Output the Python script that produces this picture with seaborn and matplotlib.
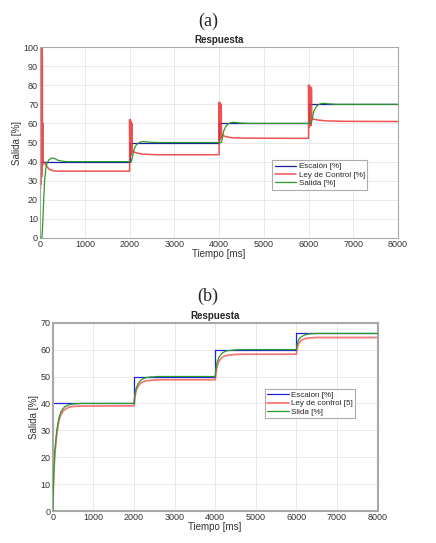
import numpy as np
import pandas as pd
import matplotlib as mpl
from matplotlib import pyplot as plt
import seaborn as sns

sns.set_theme(style="whitegrid")
plt.rcParams["font.family"] = ["Liberation Sans", "DejaVu Sans"]

# ---- (a) data ----
esc_t_a = [0, 2000, 2000, 4000, 4000, 6000, 6000, 8000]
esc_y_a = [40, 40, 50, 50, 60, 60, 70, 70]

ley_t_a = [0, 5, 10, 15, 20, 25, 30, 35, 40, 45, 50, 55, 60, 70, 100, 150, 200, 300, 400, 2000,
           2000, 2008, 2016, 2024, 2032, 2040, 2048, 2056, 2062, 2100, 2200, 2300, 2600, 4000,
           4000, 4008, 4016, 4024, 4032, 4040, 4048, 4056, 4064, 4100, 4200, 4300, 4600, 5500, 6000,
           6000, 6008, 6016, 6024, 6032, 6040, 6048, 6056, 6064, 6072, 6080, 6100, 6200, 6400, 6800, 8000]
ley_y_a = [105, 25, 105, 28, 105, 30, 105, 32, 100, 35, 95, 38, 60, 40, 39.5, 37.5, 36, 35.2, 35, 35,
           62, 42, 62, 43, 61, 44, 60, 45, 46, 45, 44.3, 43.9, 43.6, 43.6,
           71, 51, 71, 52, 70, 52, 70, 53, 54, 53.5, 52.8, 52.5, 52.3, 52.2, 52.2,
           80, 58, 80, 58.5, 79, 59, 79, 59, 78, 62, 62.5, 62.3, 61.8, 61.3, 61.1, 61]

sal_t_a = [0, 40, 60, 80, 100, 130, 160, 200, 250, 300, 350, 400, 500, 600, 2000,
           2040, 2060, 2080, 2100, 2150, 2200, 2250, 2300, 2400, 2500, 2600, 4000,
           4050, 4070, 4090, 4110, 4160, 4210, 4260, 4330, 4430, 4530, 4650, 6000,
           6060, 6080, 6100, 6120, 6170, 6220, 6270, 6340, 6440, 6540, 6660, 8000]
sal_y_a = [0, 0, 8, 20, 30, 37, 39.5, 41, 41.8, 41.8, 41.3, 40.7, 40.2, 40, 40,
           40, 42, 44.5, 46.5, 48.7, 49.8, 50.3, 50.5, 50.3, 50.1, 50, 50,
           50, 52, 54.5, 56.5, 58.7, 59.8, 60.4, 60.6, 60.3, 60.1, 60, 60,
           60, 62, 64.5, 66.5, 68.7, 69.8, 70.3, 70.5, 70.3, 70.1, 70, 70]

# ---- (b) data ----
esc_t_b = [0, 2000, 2000, 4000, 4000, 6000, 6000, 8000]
esc_y_b = [40, 40, 50, 50, 60, 60, 66, 66]

ley_t_b = [0, 20, 50, 100, 150, 200, 250, 300, 400, 500, 700, 2000,
           2020, 2050, 2100, 2150, 2200, 2300, 2500, 2700, 4000,
           4020, 4050, 4100, 4150, 4200, 4300, 4500, 4700, 6000,
           6020, 6050, 6100, 6150, 6200, 6300, 6500, 8000]
ley_y_b = [0, 12, 21, 29, 33.5, 35.8, 37, 37.8, 38.6, 38.9, 39, 39.1,
           42, 44.5, 46.3, 47.3, 47.9, 48.4, 48.7, 48.8, 48.8,
           51.5, 54, 55.8, 56.8, 57.4, 57.9, 58.2, 58.3, 58.3,
           60.5, 62, 63.2, 63.7, 64, 64.3, 64.5, 64.5]

sal_t_b = [0, 20, 50, 100, 150, 200, 250, 300, 400, 500, 700, 2000,
           2020, 2050, 2100, 2150, 2200, 2300, 2400, 2600, 4000,
           4020, 4050, 4100, 4150, 4200, 4300, 4500, 4700, 6000,
           6020, 6050, 6100, 6150, 6200, 6300, 6500, 8000]
sal_y_b = [0, 12, 22, 30, 34.5, 36.8, 38, 38.8, 39.5, 39.8, 40, 40,
           43, 45.5, 47.3, 48.3, 49, 49.6, 49.8, 50, 50,
           53, 55.5, 57.3, 58.3, 59, 59.6, 59.9, 60, 60,
           62, 63.5, 64.5, 65, 65.4, 65.8, 66, 66]

fig = plt.figure(figsize=(4.36, 5.43), dpi=100)
ax_a = fig.add_axes([0.092, 0.5617, 0.821, 0.3517])
ax_b = fig.add_axes([0.121, 0.0589, 0.745, 0.3468])


def draw(ax, t, y, color, label, lw=0.9, alpha=1.0, z=2):
    sns.lineplot(x=t, y=y, ax=ax, color=color, label=label, linewidth=lw,
                 alpha=alpha, estimator=None, sort=False, zorder=z)


draw(ax_a, esc_t_a, esc_y_a, "#1a1aa6", "Escalón [%]")
draw(ax_a, ley_t_a, ley_y_a, "#ec3434", "Ley de Control [%]", lw=1.1, alpha=0.85)
draw(ax_a, sal_t_a, sal_y_a, "#2a9a2a", "Salida [%]", z=3)

draw(ax_b, esc_t_b, esc_y_b, "#2020e0", "Escalon [%]")
draw(ax_b, ley_t_b, ley_y_b, "#f04040", "Ley de control [5]", lw=1.3, alpha=0.7)
draw(ax_b, sal_t_b, sal_y_b, "#2a9a2a", "Slida [%]", z=3)

for ax, ylim, yt, fw in [(ax_a, 100, range(0, 101, 10), 0.8), (ax_b, 70, range(0, 71, 10), 1.5)]:
    ax.set_xlim(0, 8000)
    ax.set_ylim(0, ylim)
    ax.set_xticks(range(0, 8001, 1000))
    ax.set_yticks(list(yt))
    ax.grid(True, color="#e4e4e4", linewidth=0.6)
    ax.tick_params(labelsize=6.5, colors="#333333", length=2, direction="in", pad=1.5)
    for s in ax.spines.values():
        s.set_color("#a8a8a8")
        s.set_linewidth(fw)
    ax.set_xlabel("Tiempo [ms]", fontsize=7, color="#333333", labelpad=0)
    ax.set_ylabel("Salida [%]", fontsize=7, color="#333333", labelpad=1)
    ax.set_title("Respuesta", fontsize=7, fontweight="bold", pad=3)

leg_a = ax_a.legend(loc="upper left", bbox_to_anchor=(0.637, 0.428), fontsize=5.8,
                    frameon=True, fancybox=False, edgecolor="#999999", handlelength=2.7,
                    borderpad=0.3, labelspacing=0.1, handletextpad=0.3)
leg_b = ax_b.legend(loc="upper left", bbox_to_anchor=(0.64, 0.67), fontsize=5.8,
                    frameon=True, fancybox=False, edgecolor="#999999", handlelength=2.7,
                    borderpad=0.3, labelspacing=0.1, handletextpad=0.3)
for leg in (leg_a, leg_b):
    leg.get_frame().set_linewidth(0.8)

fig.text(0.477, 0.960, "(a)", fontsize=13, ha="center", va="center",
         family=["Liberation Serif", "DejaVu Serif"])
fig.text(0.477, 0.455, "(b)", fontsize=13, ha="center", va="center",
         family=["Liberation Serif", "DejaVu Serif"])

fig.savefig("out.png", dpi=100)
